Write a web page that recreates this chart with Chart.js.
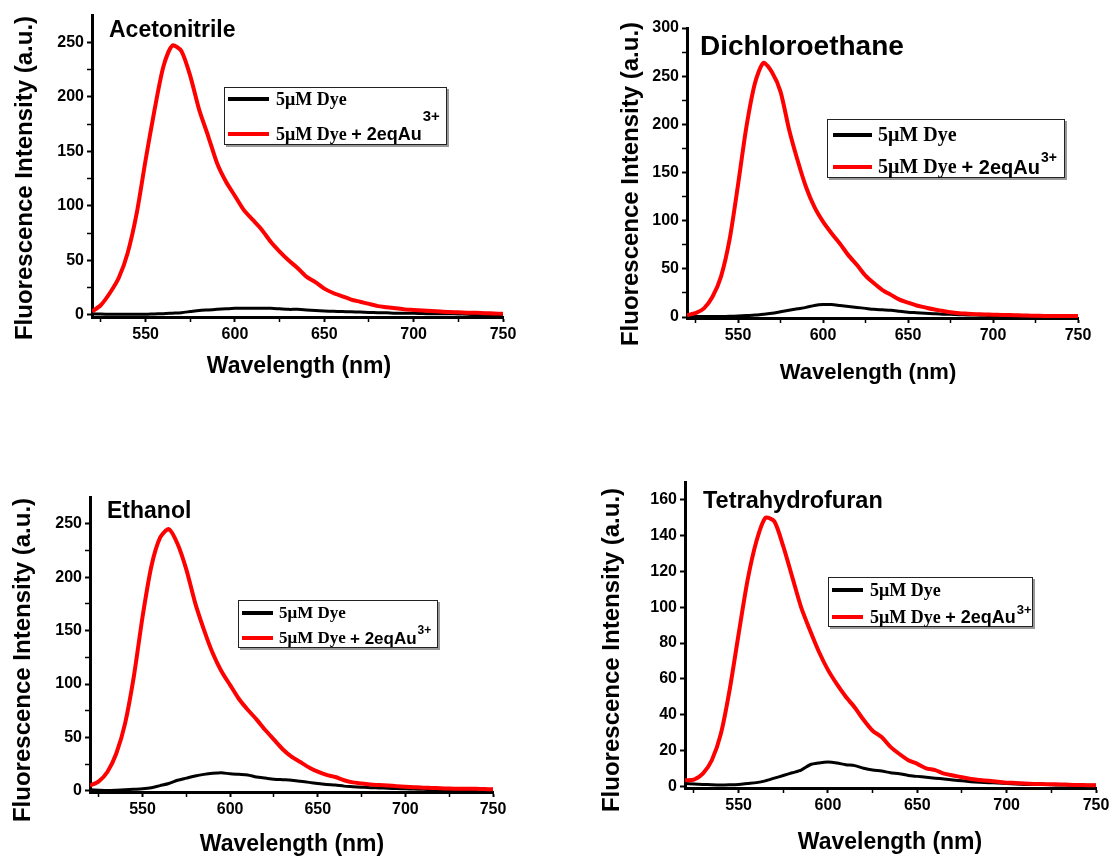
<!DOCTYPE html>
<html>
<head>
<meta charset="utf-8">
<script src="https://cdn.jsdelivr.net/npm/chart.js@4.4.0/dist/chart.umd.min.js"></script>
<style>
  body { margin: 0; background: #fff; width: 1120px; height: 858px; position: relative; overflow: hidden; }
  canvas { position: absolute; }
</style>
</head>
<body>
<canvas id="c1" width="560" height="429" style="left:0;top:0;width:560px;height:429px"></canvas>
<canvas id="c2" width="560" height="429" style="left:560px;top:0;width:560px;height:429px"></canvas>
<canvas id="c3" width="560" height="429" style="left:0;top:429px;width:560px;height:429px"></canvas>
<canvas id="c4" width="560" height="429" style="left:560px;top:429px;width:560px;height:429px"></canvas>
<script>
// ---- data (5 nm steps) ----
var wavelengths = [520, 525, 530, 535, 540, 545, 550, 555, 560, 565,
  570, 575, 580, 585, 590, 595, 600, 605, 610, 615,
  620, 625, 630, 635, 640, 645, 650, 655, 660, 665,
  670, 675, 680, 685, 690, 695, 700, 705, 710, 715,
  720, 725, 730, 735, 740, 745, 750];

var acnDye = [1, 0.7, 0.5, 0.5, 0.5, 0.5, 0.5, 0.8, 1, 1.5,
  2, 3, 4, 4.5, 5, 5.5, 6, 6, 6, 6,
  6, 5.5, 5, 5, 4.5, 4, 3.5, 3.2, 3, 2.8,
  2.5, 2.2, 2, 1.8, 1.5, 1.5, 1.5, 1.2, 1, 1,
  1, 0.8, 0.5, 0.3, 0, -0.3, -0.5];
var acnAu = [3, 9, 20, 34, 57, 93, 142, 188, 228, 247,
  242, 219, 188, 164, 139, 122, 109, 96, 87, 78,
  67, 58, 50, 43, 35, 30, 24, 20, 17, 14,
  12, 10, 8, 7, 6, 5, 4.5, 4, 3.5, 3,
  2.5, 2.3, 2, 1.8, 1.5, 1.2, 1];

var dceDye = [1, 0.8, 0.5, 0.5, 0.5, 0.7, 1, 1.5, 2, 3,
  4, 5.5, 7, 8.5, 10, 12, 13, 13, 12, 11,
  10, 9, 8, 7.5, 7, 6, 5, 4.5, 4, 3.5,
  3, 2.8, 2.5, 2.2, 2, 1.8, 1.5, 1.2, 1, 0.8,
  0.5, 0.5, 0.5, 0.3, 0, 0, 0];
var dceAu = [2, 4, 9, 21, 42, 80, 137, 198, 243, 264,
  254, 234, 195, 163, 135, 114, 99, 87, 76, 64,
  54, 43, 35, 28, 23, 18, 15, 12, 10, 8,
  6.5, 5, 4, 3.5, 3, 2.7, 2.5, 2.2, 2, 1.8,
  1.5, 1.3, 1.2, 1, 1, 1, 1];

var etohDye = [1, 0.7, 0.5, 0.7, 1, 1.5, 2, 3, 5, 7,
  10, 12, 14, 15.5, 16.5, 17, 16, 15.5, 15, 13,
  12, 11, 10.5, 10, 9, 8, 7, 6, 5.5, 4.5,
  4, 3.5, 3, 2.8, 2.5, 2.2, 2, 1.8, 1.5, 1.2,
  1, 0.8, 0.5, 0.5, 0.5, 0.3, 0];
var etohAu = [5, 9, 18, 35, 63, 107, 163, 210, 237, 245,
  231, 207, 176, 151, 129, 112, 99, 86, 76, 67,
  57, 48, 39, 32, 27, 22, 18, 15, 13, 10,
  8, 7, 6, 5.5, 5, 4.5, 4, 3.5, 3, 2.8,
  2.5, 2.2, 2, 2, 2, 1.8, 1.5];

var thfDye = [1.5, 1.2, 1, 0.8, 0.7, 0.8, 1, 1.5, 2, 3,
  4.5, 6, 7.5, 9, 12, 13, 13.5, 13, 12, 11.5,
  10, 9, 8.5, 7.5, 7, 6, 5.5, 5, 4.5, 4,
  3.5, 3, 2.5, 2.2, 2, 1.8, 1.5, 1.2, 1, 1,
  1, 0.8, 0.7, 0.6, 0.5, 0.5, 0.5];
var thfAu = [3.3, 3.7, 7, 14.5, 29, 54, 85, 115, 137, 150,
  148, 134, 117, 100, 87, 75, 65, 57, 50, 44,
  37, 31, 27.5, 22, 18, 14.5, 12.5, 10, 9, 7,
  6, 5, 4, 3.5, 3, 2.5, 2, 1.8, 1.5, 1.3,
  1.2, 1.1, 1, 0.8, 0.7, 0.6, 0.5];

var solventNames = ['Acetonitrile', 'Dichloroethane', 'Ethanol', 'Tetrahydrofuran'];
var xMajorTicks = [550, 600, 650, 700, 750];
var xMinorTicks = [525, 575, 625, 675, 725];
var yMajorTicks250 = [0, 50, 100, 150, 200, 250];
var yMinorTicks250 = [25, 75, 125, 175, 225];
var yMajorTicks300 = [0, 50, 100, 150, 200, 250, 300];
var yMinorTicks300 = [25, 75, 125, 175, 225, 275];
var yMajorTicks160 = [0, 20, 40, 60, 80, 100, 120, 140, 160];
var yMinorTicks160 = [10, 30, 50, 70, 90, 110, 130, 150];

var xAxisTitle = 'Wavelength (nm)';
var yAxisTitle = 'Fluorescence Intensity (a.u.)';
var dyeLabel = '5\u03bcM Dye';
var auSuffix = '+ 2eqAu';
var auCharge = '3+';

var SANS = '"Liberation Sans", Arial, sans-serif';
var SERIF = '"Liberation Serif", "Times New Roman", serif';

Chart.defaults.font.family = SANS;
Chart.defaults.font.weight = 'bold';
Chart.defaults.font.size = 16;
Chart.defaults.color = '#000';

// axis titles, solvent name and the boxed legend
var decoPlugin = {
  id: 'deco',
  afterDraw: function (chart, args, o) {
    var ctx = chart.ctx;
    ctx.save();
    ctx.fillStyle = '#000';
    ctx.textBaseline = 'middle';

    ctx.save();
    ctx.translate(o.yTitle[0], o.yTitle[1]);
    ctx.rotate(-Math.PI / 2);
    ctx.textAlign = 'center';
    ctx.font = 'bold ' + o.yTitle[2] + 'px ' + SANS;
    ctx.fillText(yAxisTitle, 0, 0);
    ctx.restore();

    ctx.textAlign = 'center';
    ctx.font = 'bold ' + o.xTitle[2] + 'px ' + SANS;
    ctx.fillText(xAxisTitle, o.xTitle[0], o.xTitle[1]);

    ctx.textAlign = 'left';
    ctx.font = 'bold ' + o.solvent[2] + 'px ' + SANS;
    ctx.fillText(o.name, o.solvent[0], o.solvent[1]);

    var L = o.legend;
    ctx.fillStyle = '#999';
    ctx.fillRect(L.x + 2, L.y + 2, L.w, L.h);
    ctx.fillStyle = '#fff';
    ctx.fillRect(L.x, L.y, L.w, L.h);
    ctx.strokeStyle = '#222';
    ctx.lineWidth = 1;
    ctx.strokeRect(L.x + 0.5, L.y + 0.5, L.w - 1, L.h - 1);

    var ds = chart.data.datasets;
    var entries = [ds[1], ds[0]];
    entries.forEach(function (d, i) {
      var y = L.rows[i];
      ctx.strokeStyle = d.borderColor;
      ctx.lineWidth = 4;
      ctx.beginPath();
      ctx.moveTo(L.lx0, y);
      ctx.lineTo(L.lx1, y);
      ctx.stroke();
      ctx.fillStyle = '#000';
      ctx.font = 'bold ' + L.size + 'px ' + SERIF;
      ctx.fillText(dyeLabel, L.tx, y + 1);
      if (i === 1) {
        var x = L.tx + ctx.measureText(dyeLabel + ' ').width;
        ctx.font = 'bold ' + L.size + 'px ' + SANS;
        ctx.fillText(auSuffix, x, y + 1);
        x += ctx.measureText(auSuffix).width;
        ctx.font = 'bold ' + L.supSize + 'px ' + SANS;
        ctx.fillText(auCharge, x + 1, y - L.supRaise);
      }
    });
    ctx.restore();
  }
};

function pts(ys) {
  return wavelengths.map(function (w, i) { return { x: w, y: ys[i] }; });
}

function makePanel(id, area, yMin, yMax, yMajor, yMinor, dye, au, deco) {
  var cw = 560, ch = 429;
  var gridOpts = {
    drawOnChartArea: false,
    color: '#000',
    tickColor: '#000',
    tickLength: 5,
    tickWidth: function (c) { return c.tick && c.tick.major ? 2 : 1.5; }
  };
  return new Chart(document.getElementById(id), {
    type: 'line',
    data: {
      datasets: [
        { data: pts(au), borderColor: '#ff0000', borderWidth: 4, pointRadius: 0, tension: 0.25 },
        { data: pts(dye), borderColor: '#000000', borderWidth: 3, pointRadius: 0, tension: 0.25 }
      ]
    },
    options: {
      responsive: false,
      animation: false,
      layout: { padding: { left: 0, top: area.t, right: cw - area.r, bottom: 0 } },
      plugins: { legend: { display: false }, tooltip: { enabled: false }, deco: deco },
      scales: {
        x: {
          type: 'linear',
          min: 520,
          max: 750,
          border: { display: true, color: '#000', width: 3 },
          grid: gridOpts,
          afterFit: function (s) { s.height = ch - area.b; },
          afterBuildTicks: function (s) {
            s.ticks = xMajorTicks.concat(xMinorTicks).sort(function (a, b) { return a - b; })
              .map(function (v) { return { value: v, major: xMajorTicks.indexOf(v) >= 0 }; });
          },
          ticks: {
            padding: 3,
            maxRotation: 0,
            font: { size: 16, weight: 'bold' },
            callback: function (v) { return xMajorTicks.indexOf(v) >= 0 ? String(v) : ''; }
          }
        },
        y: {
          type: 'linear',
          min: yMin,
          max: yMax,
          border: { display: true, color: '#000', width: 3 },
          grid: gridOpts,
          afterFit: function (s) { s.width = area.l; },
          afterBuildTicks: function (s) {
            s.ticks = yMajor.concat(yMinor).sort(function (a, b) { return a - b; })
              .map(function (v) { return { value: v, major: yMajor.indexOf(v) >= 0 }; });
          },
          ticks: {
            padding: 3,
            font: { size: 16, weight: 'bold' },
            callback: function (v) { return yMajor.indexOf(v) >= 0 ? String(v) : ''; }
          }
        }
      }
    },
    plugins: [decoPlugin]
  });
}

makePanel('c1', { l: 92, t: 15, r: 503, b: 317 }, -2, 275, yMajorTicks250, yMinorTicks250, acnDye, acnAu, {
  name: solventNames[0], yTitle: [25, 178, 24], xTitle: [299, 367, 23], solvent: [109, 31, 23],
  legend: { x: 224, y: 87, w: 223, h: 58, rows: [99, 134], lx0: 228, lx1: 269, tx: 276, size: 18, supSize: 15, supRaise: 17 }
});
makePanel('c2', { l: 127, t: 28, r: 518, b: 318 }, -1, 300, yMajorTicks300, yMinorTicks300, dceDye, dceAu, {
  name: solventNames[1], yTitle: [71, 184, 24], xTitle: [308, 373, 22], solvent: [140, 47, 28],
  legend: { x: 267, y: 119, w: 238, h: 59, rows: [135, 167], lx0: 273, lx1: 312, tx: 318, size: 20, supSize: 14, supRaise: 9 }
});
makePanel('c3', { l: 90, t: 68, r: 493, b: 363 }, -1, 275, yMajorTicks250, yMinorTicks250, etohDye, etohAu, {
  name: solventNames[2], yTitle: [23, 231, 24], xTitle: [292, 416, 23], solvent: [107, 83, 23],
  legend: { x: 238, y: 171, w: 200, h: 48, rows: [184, 209], lx0: 242, lx1: 273, tx: 279, size: 17, supSize: 12, supRaise: 7 }
});
makePanel('c4', { l: 125, t: 53, r: 536, b: 359 }, -1, 170, yMajorTicks160, yMinorTicks160, thfDye, thfAu, {
  name: solventNames[3], yTitle: [52, 221, 24], xTitle: [330, 414, 23], solvent: [143, 73, 23.5],
  legend: { x: 268, y: 148, w: 205, h: 50, rows: [161, 188], lx0: 272, lx1: 303, tx: 310, size: 18, supSize: 13, supRaise: 7 }
});
</script>
</body>
</html>
